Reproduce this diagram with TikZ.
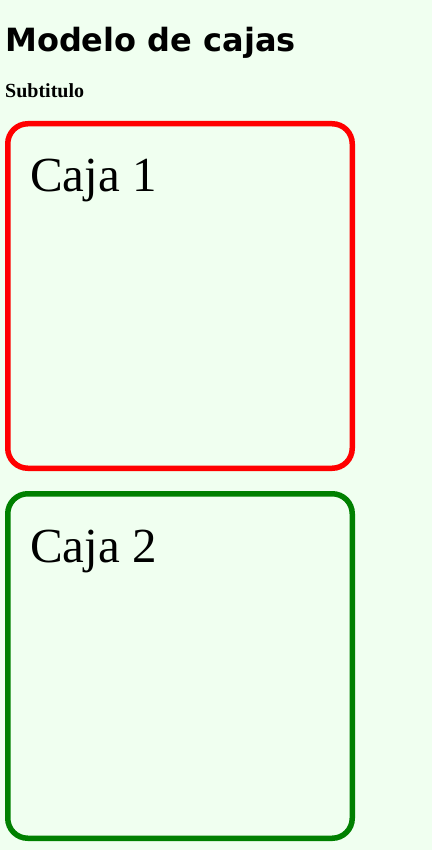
\documentclass[tikz,border=0pt]{standalone}
\usepackage{fontspec}
\setmainfont{Liberation Serif}
\newfontfamily\titlefont{DejaVu Sans}
\usetikzlibrary{positioning}
\definecolor{fondo}{HTML}{F0FFF0}
\definecolor{verde}{HTML}{008000}
\tikzset{
  caja/.style={
    draw=#1,
    line width=5.5pt,
    rounded corners=20pt,
    minimum width=344.5pt,
    minimum height=344.5pt,
    inner sep=0pt,
  },
  etiqueta/.style={
    anchor=base west,
    inner sep=0pt,
    font=\fontsize{49}{58}\selectfont,
  },
  encabezado/.style={
    anchor=base west,
    inner sep=0pt,
  }
}
\begin{document}
\begin{tikzpicture}[x=1pt,y=-1pt,node distance=20pt]
        \fill[fondo] (0,0) rectangle (432,850);
        \useasboundingbox (0,0) rectangle (432,850);

        \node [encabezado, font=\titlefont\bfseries\fontsize{32}{38}\selectfont] (titulo) at (5,52) {Modelo de cajas};
        \node [encabezado, font=\bfseries\fontsize{20}{24}\selectfont] (subtitulo) at (5,98) {Subtitulo};

        \node [caja=red, anchor=north west] (caja1) at (5,121) {};
        \node [caja=verde, below=of caja1] (caja2) {};

        \node [etiqueta] (texto1) at ([shift={(25,71)}]caja1.north west) {Caja 1};
        \node [etiqueta] (texto2) at ([shift={(25,71)}]caja2.north west) {Caja 2};
    \end{tikzpicture}
\end{document}
